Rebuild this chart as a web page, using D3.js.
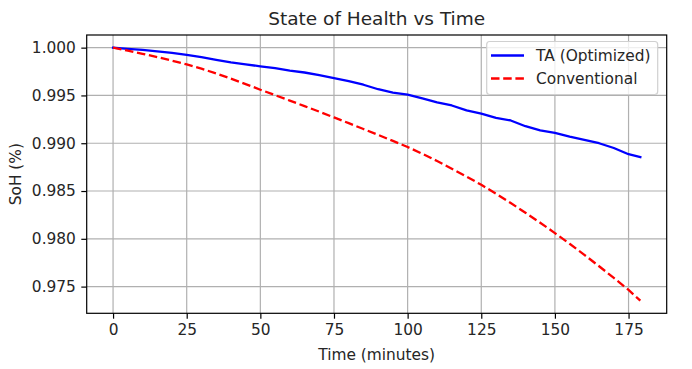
<!DOCTYPE html>
<html>
<head>
<meta charset="utf-8">
<script src="https://cdn.jsdelivr.net/npm/d3@7"></script>
<style>
  html, body { margin: 0; padding: 0; background: #fff; }
  svg { display: block; }
  text { font-family: "DejaVu Sans", sans-serif; fill: #262626; }
</style>
</head>
<body>
<svg id="chart" width="692" height="369"></svg>
<script>
const timeMinutes = [0,5,10,15,20,25,30,35,40,45,50,55,60,65,70,75,80,85,90,95,100,105,110,115,120,125,130,135,140,145,150,155,160,165,170,175,179];
const sohOptimized = [1.0000,0.99988,0.99976,0.99962,0.99945,0.99925,0.99900,0.99872,0.99845,0.99825,0.99805,0.99785,0.99760,0.99740,0.99712,0.99682,0.99650,0.99612,0.99565,0.99530,0.99509,0.99470,0.99428,0.99395,0.99343,0.99310,0.99265,0.99238,0.99178,0.99135,0.99108,0.99068,0.99036,0.99000,0.98950,0.98885,0.98854];
const sohConventional = [1.00000,0.99969,0.99936,0.99901,0.99864,0.99825,0.99780,0.99730,0.99676,0.99619,0.99560,0.99503,0.99446,0.99388,0.99330,0.99270,0.99210,0.99149,0.99087,0.99024,0.98960,0.98890,0.98814,0.98734,0.98651,0.98565,0.98472,0.98374,0.98273,0.98168,0.98060,0.97948,0.97832,0.97713,0.97591,0.97465,0.97353];
const xTicks = [0,25,50,75,100,125,150,175];
const yTicks = [0.975,0.980,0.985,0.990,0.995,1.000];
const seriesNames = ["TA (Optimized)", "Conventional"];
const titleText = "State of Health vs Time";
const xLabelText = "Time (minutes)";
const yLabelText = "SoH (%)";

const svg = d3.select("#chart");
const plot = { left: 86.7, right: 666.7, top: 35, bottom: 313.3 };
const fs = 15.4;

const xMin = d3.min(timeMinutes), xMax = d3.max(timeMinutes);
const xPad = (xMax - xMin) * 0.05;
const allY = sohOptimized.concat(sohConventional);
const yMin = d3.min(allY), yMax = d3.max(allY);
const yPad = (yMax - yMin) * 0.05;

const x = d3.scaleLinear().domain([xMin - xPad, xMax + xPad]).range([plot.left, plot.right]);
const y = d3.scaleLinear().domain([yMin - yPad, yMax + yPad]).range([plot.bottom, plot.top]);

// grid
const grid = svg.append("g");
grid.selectAll("line.vx").data(xTicks).join("line")
  .attr("x1", d => x(d)).attr("x2", d => x(d))
  .attr("y1", plot.top).attr("y2", plot.bottom)
  .attr("stroke", "#b0b0b0").attr("stroke-width", 1.2);
grid.selectAll("line.hy").data(yTicks).join("line")
  .attr("y1", d => y(d)).attr("y2", d => y(d))
  .attr("x1", plot.left).attr("x2", plot.right)
  .attr("stroke", "#b0b0b0").attr("stroke-width", 1.2);

// lines
const line = d3.line().x((d, i) => x(timeMinutes[i])).y(d => y(d));
svg.append("path").datum(sohOptimized).attr("d", line)
  .attr("fill", "none").attr("stroke", "#0000ff").attr("stroke-width", 2.3)
  .attr("stroke-linejoin", "round").attr("stroke-linecap", "square");
svg.append("path").datum(sohConventional).attr("d", line)
  .attr("fill", "none").attr("stroke", "#ff0000").attr("stroke-width", 2.3)
  .attr("stroke-dasharray", "8.5,3.7");

// axes
const xAxis = d3.axisBottom(x).tickValues(xTicks).tickFormat(d3.format("d")).tickSize(5.4).tickPadding(5.4);
const yAxis = d3.axisLeft(y).tickValues(yTicks).tickFormat(d3.format(".3f")).tickSize(5.4).tickPadding(5.4);
const gx = svg.append("g").attr("transform", `translate(0,${plot.bottom})`).call(xAxis);
const gy = svg.append("g").attr("transform", `translate(${plot.left},0)`).call(yAxis);
[gx, gy].forEach(g => {
  g.select(".domain").remove();
  g.selectAll(".tick line").attr("stroke", "#000").attr("stroke-width", 1.2);
  g.selectAll(".tick text").attr("font-size", fs).attr("fill", "#262626").attr("font-family", "DejaVu Sans, sans-serif");
});

// frame
svg.append("rect").attr("x", plot.left).attr("y", plot.top)
  .attr("width", plot.right - plot.left).attr("height", plot.bottom - plot.top)
  .attr("fill", "none").attr("stroke", "#000").attr("stroke-width", 1.2);

// title and labels
svg.append("text").attr("x", (plot.left + plot.right) / 2).attr("y", 25)
  .attr("text-anchor", "middle").attr("font-size", 18.5).text(titleText);
svg.append("text").attr("x", (plot.left + plot.right) / 2).attr("y", 360)
  .attr("text-anchor", "middle").attr("font-size", fs).text(xLabelText);
svg.append("text").attr("transform", `translate(21,${(plot.top + plot.bottom) / 2}) rotate(-90)`)
  .attr("text-anchor", "middle").attr("font-size", fs).text(yLabelText);

// legend
const lg = svg.append("g");
lg.append("rect").attr("x", 486.7).attr("y", 41.5).attr("width", 171).attr("height", 53)
  .attr("rx", 3).attr("fill", "#fff").attr("fill-opacity", 0.8)
  .attr("stroke", "#d0d0d0").attr("stroke-width", 1.2);
const legendItems = [
  { name: seriesNames[0], color: "#0000ff", dash: null, yy: 55.5 },
  { name: seriesNames[1], color: "#ff0000", dash: "8.5,3.7", yy: 78.5 }
];
legendItems.forEach(it => {
  lg.append("line").attr("x1", 491).attr("x2", 524).attr("y1", it.yy).attr("y2", it.yy)
    .attr("stroke", it.color).attr("stroke-width", 2.3)
    .attr("stroke-dasharray", it.dash);
  lg.append("text").attr("x", 536).attr("y", it.yy + 5.5).attr("font-size", fs).text(it.name);
});
</script>
</body>
</html>
